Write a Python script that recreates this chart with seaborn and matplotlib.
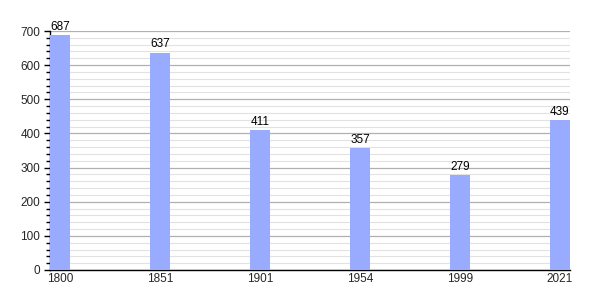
import matplotlib
matplotlib.use("Agg")
import matplotlib.pyplot as plt
import seaborn as sns
import pandas as pd
from matplotlib.ticker import MultipleLocator

years = ["1800", "1851", "1901", "1954", "1999", "2021"]
population = [687, 637, 411, 357, 279, 439]

sns.set_theme(style="white")
plt.rcParams['font.family'] = ['Liberation Sans', 'DejaVu Sans']

df = pd.DataFrame({"year": years, "pop": population})

fig = plt.figure(figsize=(6, 3), dpi=100)
ax = fig.add_axes([50/600, 30/300, 520/600, 239/300])

sns.barplot(data=df, x="year", y="pop", color="#99abff", saturation=1,
            width=0.2, ax=ax, zorder=3, linewidth=0, edgecolor="none")

ax.set_xlim(-0.1, 5.1)
ax.set_ylim(0, 700)
ax.yaxis.set_major_locator(MultipleLocator(100))
ax.yaxis.set_minor_locator(MultipleLocator(20))
ax.grid(which="major", axis="y", color="#b0b0b0", linewidth=0.9, zorder=0)
ax.grid(which="minor", axis="y", color="#e2e2e2", linewidth=0.8, zorder=0)
ax.set_axisbelow(True)

for s in ["top", "right"]:
    ax.spines[s].set_visible(False)
for s in ["left", "bottom"]:
    ax.spines[s].set_color("black")
    ax.spines[s].set_linewidth(1.0)

ax.tick_params(axis="y", which="major", length=4, width=1, color="black",
               labelsize=8.5, pad=3, left=True, direction="out")
ax.tick_params(axis="y", which="minor", length=3, width=1, color="black",
               left=True, direction="out")
ax.tick_params(axis="x", length=0, labelsize=8.5, pad=2)
ax.set_xlabel("")
ax.set_ylabel("")

for i, v in enumerate(population):
    ax.text(i, v + 6, str(v), ha="center", va="bottom", fontsize=8.5, color="black")

fig.savefig("out.png", dpi=100)
